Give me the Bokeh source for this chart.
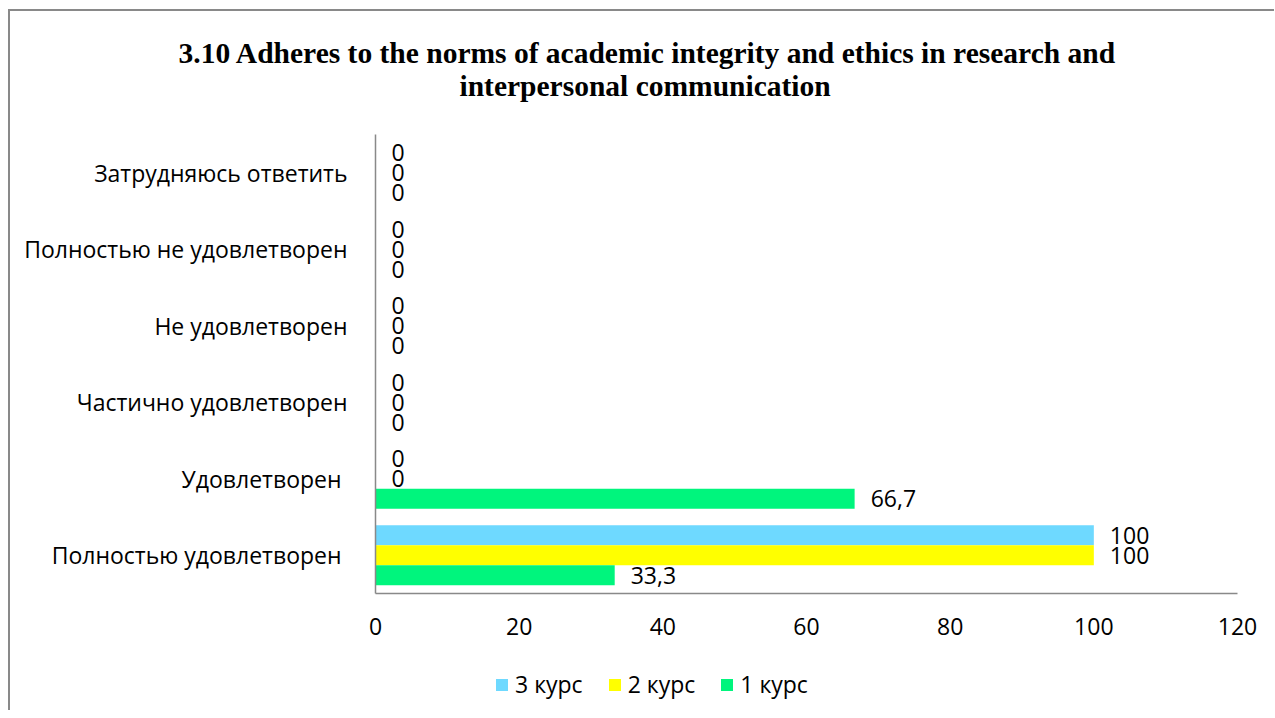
from bokeh.plotting import figure
from bokeh.layouts import column
from bokeh.models import (FactorRange, Range1d, ColumnDataSource, Title, Legend, LegendItem,
                          FixedTicker)
from bokeh.transform import dodge
from bokeh.core.properties import value
from bokeh.embed import file_html
from bokeh.resources import INLINE

# ---- data (top-to-bottom as in the chart) ----
categories = ["Затрудняюсь ответить", "Полностью не удовлетворен", "Не удовлетворен",
              "Частично удовлетворен", "Удовлетворен ", "Полностью удовлетворен "]
series_names = ["3 курс", "2 курс", "1 курс"]
course3 = [0, 0, 0, 0, 0, 100]
course2 = [0, 0, 0, 0, 0, 100]
course1 = [0, 0, 0, 0, 66.7, 33.3]
series_values = [course3, course2, course1]
series_colors = ["#6ED9FF", "#FFFF00", "#00F57D"]
x_ticks = [0, 20, 40, 60, 80, 100, 120]
title_line1 = "3.10 Adheres to the norms of academic integrity and ethics in research and"
title_line2 = "interpersonal communication"

FONT = "Open Sans"
SERIF = "Liberation Serif"
GRAY = "#898989"
FS = "23px"
W = 1264

def fmt(v):
    return str(int(v)) if float(v).is_integer() else ("%.1f" % v).replace(".", ",")

p = figure(width=W, height=649, output_backend="svg", toolbar_location=None, title=None,
           y_range=FactorRange(factors=list(reversed(categories)), range_padding=0),
           x_range=Range1d(0, 120),
           min_border_left=365, min_border_right=37, min_border_top=123, min_border_bottom=67)
p.outline_line_color = None
p.xgrid.grid_line_color = None
p.ygrid.grid_line_color = None

bar_h = 0.2614
offsets = [bar_h, 0.0, -bar_h]
for name, vals, col, off in zip(series_names, series_values, series_colors, offsets):
    src = ColumnDataSource(dict(cat=categories, v=vals, lab=[fmt(v) for v in vals]))
    p.hbar(y=dodge("cat", off, range=p.y_range), right="v", left=0, height=bar_h,
           fill_color=col, line_color=None, source=src)
    p.text(x="v", y=dodge("cat", off, range=p.y_range), text="lab", source=src,
           x_offset=16, text_align="left", text_baseline="middle",
           text_font=value(FONT), text_font_size=FS, text_color="#000000")

# axes
p.xaxis.ticker = FixedTicker(ticks=x_ticks)
p.xaxis.axis_line_color = GRAY
p.xaxis.axis_line_width = 1.5
p.xaxis.major_tick_line_color = None
p.xaxis.minor_tick_line_color = None
p.xaxis.major_label_text_font = FONT
p.xaxis.major_label_text_font_size = FS
p.xaxis.major_label_text_color = "#000000"
p.xaxis.major_label_standoff = 18

p.yaxis.axis_line_color = GRAY
p.yaxis.axis_line_width = 1.5
p.yaxis.major_tick_line_color = None
p.yaxis.minor_tick_line_color = None
p.yaxis.major_label_text_font = FONT
p.yaxis.major_label_text_font_size = FS
p.yaxis.major_label_text_color = "#000000"
p.yaxis.major_label_standoff = 22

# title: first added sits nearest the frame
p.add_layout(Title(text=title_line2, align="left", offset=84, standoff=66,
                   text_font=SERIF, text_font_style="bold", text_font_size="29.5px",
                   text_color="#000000"), "above")
p.add_layout(Title(text=title_line1, align="left", offset=-197, standoff=-68,
                   text_font=SERIF, text_font_style="bold", text_font_size="29.5px",
                   text_color="#000000"), "above")

# legend strip (separate figure so that the legend is not clipped)
pl = figure(width=W, height=50, output_backend="svg", toolbar_location=None, title=None,
            x_range=Range1d(0, 1), y_range=Range1d(0, 1),
            x_axis_location=None, y_axis_location=None, min_border=0)
pl.outline_line_color = None
pl.xgrid.grid_line_color = None
pl.ygrid.grid_line_color = None
leg_renderers = []
for name, col in zip(series_names, series_colors):
    # off-range placeholder so that the legend has a glyph to show
    r = pl.hbar(y=[-5], right=[0], left=0, height=0.1, fill_color=col, line_color=None)
    leg_renderers.append((name, r))
legend = Legend(items=[LegendItem(label=n, renderers=[r]) for n, r in leg_renderers],
                orientation="horizontal", location=(119, 10),
                glyph_width=15, glyph_height=15, label_standoff=6, spacing=24,
                padding=0, margin=0, border_line_color=None, background_fill_alpha=0,
                label_text_font=FONT, label_text_font_size=FS, label_text_color="#000000")
pl.add_layout(legend, "center")

layout = column(p, pl, spacing=0,
                styles={"margin-top": "9px", "margin-left": "8px",
                        "border-top": "2px solid " + GRAY, "border-left": "2px solid " + GRAY})

open("out.html", "w").write(file_html(layout, INLINE))
